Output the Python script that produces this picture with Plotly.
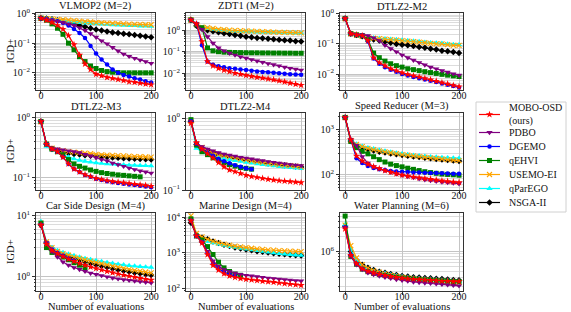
import plotly.graph_objects as go
from plotly.subplots import make_subplots

# ---------------- data ----------------
evals = [0, 10, 20, 30, 40, 50, 60, 70, 80, 90, 100, 110, 120, 130, 140, 150, 160, 170, 180, 190, 200]
methods = ["MOBO-OSD (ours)", "PDBO", "DGEMO", "qEHVI", "USEMO-EI", "qParEGO", "NSGA-II"]
legend_labels = ["MOBO-OSD", "PDBO", "DGEMO", "qEHVI", "USEMO-EI", "qParEGO", "NSGA-II"]
panel_titles = ["VLMOP2 (M=2)", "ZDT1 (M=2)", "DTLZ2-M2", "DTLZ2-M3", "DTLZ2-M4",
                "Speed Reducer (M=3)", "Car Side Design (M=4)", "Marine Design (M=4)", "Water Planning (M=6)"]

vlmop2 = {
    "MOBO-OSD (ours)": [0.7, 0.6, 0.5, 0.4, 0.3, 0.18, 0.09, 0.04, 0.02, 0.013, 0.009, 0.008, 0.007, 0.0065, 0.006, 0.0055, 0.005, 0.0048, 0.0045, 0.0042, 0.004],
    "PDBO": [0.7, 0.65, 0.6, 0.55, 0.5, 0.45, 0.4, 0.33, 0.27, 0.21, 0.16, 0.12, 0.095, 0.072, 0.055, 0.043, 0.036, 0.031, 0.027, 0.024, 0.021],
    "DGEMO": [0.7, 0.65, 0.6, 0.55, 0.48, 0.4, 0.3, 0.22, 0.15, 0.08, 0.045, 0.028, 0.019, 0.013, 0.01, 0.0085, 0.0075, 0.0065, 0.006, 0.0052, 0.0047],
    "qEHVI": [0.7, 0.6, 0.45, 0.32, 0.2, 0.1, 0.06, 0.035, 0.024, 0.017, 0.014, 0.012, 0.011, 0.0105, 0.0102, 0.01, 0.01, 0.01, 0.01, 0.01, 0.01],
    "USEMO-EI": [0.7, 0.68, 0.66, 0.64, 0.62, 0.6, 0.58, 0.56, 0.54, 0.52, 0.5, 0.49, 0.48, 0.47, 0.46, 0.45, 0.44, 0.43, 0.43, 0.42, 0.42],
    "qParEGO": [0.7, 0.67, 0.64, 0.6, 0.57, 0.54, 0.52, 0.5, 0.48, 0.46, 0.45, 0.44, 0.43, 0.42, 0.41, 0.4, 0.39, 0.39, 0.38, 0.38, 0.37],
    "NSGA-II": [0.7, 0.68, 0.65, 0.6, 0.55, 0.5, 0.45, 0.4, 0.36, 0.32, 0.29, 0.27, 0.25, 0.23, 0.22, 0.21, 0.2, 0.19, 0.18, 0.17, 0.16],
}
zdt1 = {
    "MOBO-OSD (ours)": [3.0, 2.0, 0.3, 0.035, 0.022, 0.017, 0.014, 0.012, 0.01, 0.009, 0.008, 0.0072, 0.0065, 0.006, 0.0055, 0.005, 0.0045, 0.004, 0.0035, 0.0031, 0.0028],
    "PDBO": [3.0, 1.8, 1.1, 0.5, 0.25, 0.15, 0.11, 0.085, 0.07, 0.058, 0.05, 0.043, 0.037, 0.032, 0.028, 0.025, 0.022, 0.019, 0.017, 0.0155, 0.014],
    "DGEMO": [3.0, 2.0, 0.2, 0.035, 0.025, 0.021, 0.019, 0.017, 0.016, 0.015, 0.014, 0.013, 0.012, 0.0115, 0.011, 0.0105, 0.01, 0.0095, 0.009, 0.0088, 0.0085],
    "qEHVI": [3.0, 1.8, 1.3, 0.15, 0.11, 0.1, 0.095, 0.093, 0.092, 0.091, 0.09, 0.089, 0.089, 0.088, 0.088, 0.087, 0.087, 0.086, 0.086, 0.085, 0.085],
    "USEMO-EI": [3.0, 1.8, 1.4, 1.3, 1.2, 1.1, 1.05, 1.0, 0.98, 0.95, 0.92, 0.9, 0.88, 0.86, 0.84, 0.82, 0.8, 0.79, 0.78, 0.77, 0.76],
    "qParEGO": [3.0, 1.7, 1.3, 1.2, 1.1, 1.0, 0.97, 0.93, 0.9, 0.88, 0.86, 0.84, 0.82, 0.8, 0.79, 0.78, 0.77, 0.76, 0.75, 0.74, 0.73],
    "NSGA-II": [3.0, 1.6, 1.2, 1.0, 0.9, 0.8, 0.72, 0.66, 0.6, 0.55, 0.5, 0.47, 0.44, 0.42, 0.4, 0.38, 0.36, 0.34, 0.33, 0.31, 0.3],
}
dtlz2_m2 = {
    "MOBO-OSD (ours)": [0.7, 0.22, 0.2, 0.19, 0.13, 0.035, 0.024, 0.019, 0.015, 0.013, 0.011, 0.0098, 0.0088, 0.008, 0.0072, 0.0065, 0.0058, 0.0052, 0.0047, 0.0042, 0.0038],
    "PDBO": [0.7, 0.22, 0.21, 0.2, 0.19, 0.16, 0.13, 0.09, 0.07, 0.055, 0.043, 0.035, 0.029, 0.024, 0.02, 0.017, 0.015, 0.013, 0.0115, 0.0102, 0.0092],
    "DGEMO": [0.7, 0.22, 0.2, 0.19, 0.12, 0.033, 0.022, 0.017, 0.014, 0.012, 0.01, 0.009, 0.008, 0.0073, 0.0066, 0.006, 0.0054, 0.0049, 0.0044, 0.004, 0.0036],
    "qEHVI": [0.7, 0.22, 0.2, 0.19, 0.14, 0.05, 0.035, 0.027, 0.022, 0.019, 0.017, 0.015, 0.014, 0.013, 0.012, 0.0112, 0.0105, 0.0098, 0.0092, 0.0087, 0.0083],
    "USEMO-EI": [0.7, 0.22, 0.2, 0.18, 0.165, 0.155, 0.15, 0.145, 0.14, 0.135, 0.13, 0.125, 0.12, 0.115, 0.11, 0.105, 0.1, 0.1, 0.095, 0.09, 0.09],
    "qParEGO": [0.7, 0.22, 0.2, 0.185, 0.17, 0.16, 0.155, 0.15, 0.145, 0.14, 0.135, 0.13, 0.125, 0.12, 0.115, 0.11, 0.108, 0.105, 0.1, 0.097, 0.095],
    "NSGA-II": [0.7, 0.22, 0.2, 0.18, 0.16, 0.14, 0.13, 0.12, 0.11, 0.1, 0.095, 0.09, 0.085, 0.08, 0.075, 0.07, 0.065, 0.06, 0.057, 0.054, 0.05],
}
dtlz2_m3 = {
    "MOBO-OSD (ours)": [0.85, 0.36, 0.3, 0.27, 0.22, 0.17, 0.14, 0.125, 0.113, 0.105, 0.098, 0.094, 0.09, 0.087, 0.085, 0.083, 0.081, 0.079, 0.077, 0.075, 0.073],
    "PDBO": [0.85, 0.36, 0.31, 0.3, 0.29, 0.28, 0.27, 0.26, 0.245, 0.23, 0.215, 0.2, 0.19, 0.175, 0.165, 0.155, 0.145, 0.137, 0.13, 0.125, 0.12],
    "DGEMO": [0.85, 0.36, 0.3, 0.27, 0.22, 0.17, 0.14, 0.125, 0.112, 0.104, 0.097, 0.092, 0.088, 0.085, 0.082, 0.08, 0.078, 0.076, 0.074, 0.072, 0.07],
    "qEHVI": [0.85, 0.36, 0.3, 0.27, 0.24, 0.2, 0.17, 0.155, 0.145, 0.135, 0.128, 0.122, 0.118, 0.115, 0.112, 0.11, 0.108, 0.106, 0.104, None, None],
    "USEMO-EI": [0.85, 0.36, 0.31, 0.29, 0.28, 0.27, 0.265, 0.26, 0.255, 0.25, 0.245, 0.24, 0.238, 0.235, 0.232, 0.23, 0.228, 0.225, 0.223, 0.221, 0.22],
    "qParEGO": [0.85, 0.33, 0.29, 0.26, 0.24, 0.22, 0.205, 0.195, 0.188, 0.182, 0.177, 0.173, 0.17, 0.168, 0.166, 0.164, 0.162, 0.161, 0.16, 0.159, 0.158],
    "NSGA-II": [0.85, 0.36, 0.3, 0.28, 0.265, 0.255, 0.248, 0.242, 0.237, 0.232, 0.228, 0.224, 0.22, 0.217, 0.214, 0.211, 0.208, 0.206, 0.204, 0.202, 0.2],
}
dtlz2_m4 = {
    "MOBO-OSD (ours)": [0.85, 0.45, 0.37, 0.32, 0.28, 0.24, 0.21, 0.19, 0.18, 0.17, 0.16, 0.154, 0.15, 0.145, 0.141, 0.138, 0.135, 0.133, 0.131, 0.129, 0.127],
    "PDBO": [0.9, 0.45, 0.4, 0.37, 0.35, 0.33, 0.315, 0.305, 0.295, 0.285, 0.278, 0.27, 0.262, 0.255, 0.248, 0.242, 0.236, 0.23, 0.226, 0.222, 0.218],
    "DGEMO": [0.9, 0.44, 0.37, 0.33, 0.3, 0.27, 0.25, 0.235, 0.22, 0.21, 0.2, 0.195, None, None, None, None, None, None, None, None, None],
    "qEHVI": [0.95, 0.42, 0.34, 0.31, 0.28, 0.26, 0.24, 0.225, 0.215, 0.205, 0.2, 0.195, None, None, None, None, None, None, None, None, None],
    "USEMO-EI": [0.9, 0.44, 0.39, 0.35, 0.33, 0.31, 0.3, 0.29, 0.28, 0.27, 0.262, 0.255, 0.248, 0.242, 0.236, 0.23, 0.226, 0.222, 0.218, 0.214, 0.21],
    "qParEGO": [0.9, 0.38, 0.34, 0.32, 0.3, 0.285, 0.275, 0.265, 0.257, 0.25, 0.243, 0.237, 0.231, 0.226, 0.221, 0.216, 0.212, 0.208, 0.204, 0.201, 0.198],
    "NSGA-II": [0.9, 0.43, 0.38, 0.35, 0.33, 0.31, 0.298, 0.287, 0.277, 0.268, 0.26, 0.253, 0.246, 0.24, 0.234, 0.229, 0.224, 0.22, 0.216, 0.212, 0.208],
}
speed_reducer = {
    "MOBO-OSD (ours)": [1900, 600, 260, 200, 170, 150, 135, 122, 112, 104, 97, 92, 88, 84, 81, 78, 75, 72, 70, 68, 66],
    "PDBO": [1900, 600, 450, 250, 180, 150, 135, 122, 112, 103, 96, 90, 85, 80, 76, 73, 70, 68, 66, 64, 62],
    "DGEMO": [1900, 600, 230, 180, 155, 140, 130, 125, 120, 117, 115, 113, 111, 110, 109, 108, 107, 106, 105, 104, 103],
    "qEHVI": [1900, 550, 400, 330, 290, 250, 215, 190, 170, 158, 148, 138, 130, 122, 115, 110, 106, 102, 100, 98, 96],
    "USEMO-EI": [1900, 580, 470, 420, 385, 360, 340, 322, 307, 293, 280, 270, 260, 251, 243, 235, 228, 222, 216, 210, 205],
    "qParEGO": [1900, 600, 480, 430, 400, 375, 355, 335, 318, 303, 290, 280, 270, 262, 255, 250, 245, 241, 238, 235, 232],
    "NSGA-II": [1900, 560, 450, 400, 370, 345, 325, 310, 295, 283, 272, 262, 253, 245, 237, 230, 223, 217, 211, 205, 200],
}
car_side = {
    "MOBO-OSD (ours)": [7.0, 3.4, 2.7, 2.4, 2.15, 1.95, 1.8, 1.66, 1.55, 1.45, 1.37, 1.3, 1.23, 1.17, 1.12, 1.07, 1.03, 0.99, 0.95, 0.92, 0.89],
    "PDBO": [7.0, 3.6, 2.6, 2.1, 1.75, 1.55, 1.42, 1.32, 1.23, 1.15, 1.1, 1.05, 1.0, 0.96, 0.93, 0.9, 0.88, 0.86, 0.84, 0.82, 0.8],
    "DGEMO": [7.0, 3.5, 2.8, 2.45, 2.2, 2.0, 1.85, None, None, None, None, None, None, None, None, None, None, None, None, None, None],
    "qEHVI": [7.5, 3.0, 2.5, 2.3, 2.1, 1.9, 1.7, 1.55, 1.42, None, None, None, None, None, None, None, None, None, None, None, None],
    "USEMO-EI": [7.5, 3.7, 3.0, 2.6, 2.4, 2.25, 2.1, 2.0, 1.9, 1.8, 1.72, 1.64, 1.57, 1.5, 1.44, 1.38, 1.33, 1.28, 1.24, 1.2, 1.16],
    "qParEGO": [8.0, 3.7, 3.0, 2.7, 2.5, 2.35, 2.22, 2.1, 2.0, 1.92, 1.85, 1.78, 1.72, 1.66, 1.61, 1.57, 1.53, 1.5, 1.47, 1.45, 1.43],
    "NSGA-II": [7.0, 3.6, 2.9, 2.5, 2.3, 2.15, 2.0, 1.88, 1.77, 1.67, 1.58, 1.5, 1.43, 1.37, 1.31, 1.26, 1.21, 1.17, 1.13, 1.1, 1.07],
}
marine_design = {
    "MOBO-OSD (ours)": [8000, 3000, 1900, 900, 450, 330, 260, 225, 205, 192, 182, 175, 168, 160, 155, 150, 144, 138, 133, 128, 124],
    "PDBO": [8000, 3000, 2000, 1100, 600, 420, 340, 300, 270, 250, 235, 225, 215, 205, 197, 190, 184, 178, 172, 167, 163],
    "DGEMO": [8000, 3000, 2000, 1000, 500, 360, 290, 250, 225, None, None, None, None, None, None, None, None, None, None, None, None],
    "qEHVI": [9000, 3000, 2300, 1500, 900, 550, 380, 300, 255, 235, None, None, None, None, None, None, None, None, None, None, None],
    "USEMO-EI": [11000, 3500, 2800, 2400, 2100, 1900, 1750, 1650, 1550, 1470, 1400, 1350, 1300, 1260, 1220, 1190, 1160, 1140, 1120, 1100, 1080],
    "qParEGO": [10000, 2800, 2300, 2100, 1900, 1750, 1620, 1500, 1420, 1350, 1280, 1220, 1160, 1100, 1050, 1000, 960, 930, 900, 870, 850],
    "NSGA-II": [7000, 3200, 2700, 2400, 2100, 1900, 1700, 1550, 1420, 1330, 1250, 1180, 1120, 1070, 1020, 980, 950, 920, 890, 860, 840],
}
water_planning = {
    "MOBO-OSD (ours)": [2.8e6, 8.5e5, 5.8e5, 4.6e5, 4.1e5, 3.8e5, 3.6e5, 3.4e5, 3.25e5, 3.1e5, 3.0e5, 2.9e5, 2.85e5, 2.8e5, 2.75e5, 2.7e5, 2.65e5, 2.6e5, 2.6e5, 2.55e5, 2.55e5],
    "PDBO": [3.0e6, 8.0e5, 5.5e5, 4.4e5, 3.8e5, 3.5e5, 3.3e5, 3.1e5, 2.95e5, 2.8e5, 2.7e5, 2.6e5, 2.5e5, 2.45e5, 2.4e5, 2.35e5, 2.3e5, 2.25e5, 2.2e5, 2.15e5, 2.1e5],
    "DGEMO": [3.0e6, 8.5e5, 5.7e5, 4.5e5, 4.0e5, 3.7e5, 3.5e5, 3.3e5, None, None, None, None, None, None, None, None, None, None, None, None, None],
    "qEHVI": [5.0e6, 8.0e5, 5.6e5, 4.5e5, 4.0e5, 3.7e5, 3.5e5, 3.35e5, 3.2e5, 3.1e5, 3.0e5, 2.92e5, 2.85e5, 2.8e5, 2.75e5, 2.7e5, 2.66e5, 2.62e5, 2.58e5, 2.55e5, 2.52e5],
    "USEMO-EI": [3.3e6, 1.3e6, 7.5e5, 5.5e5, 4.7e5, 4.2e5, 3.9e5, 3.6e5, 3.4e5, 3.25e5, 3.1e5, 3.0e5, 2.9e5, 2.8e5, 2.75e5, 2.7e5, 2.65e5, 2.6e5, 2.55e5, 2.5e5, 2.45e5],
    "qParEGO": [3.4e6, 1.1e6, 6.5e5, 5.0e5, 4.5e5, 4.1e5, 3.9e5, 3.7e5, 3.5e5, 3.35e5, 3.2e5, 3.1e5, 3.0e5, 2.95e5, 2.9e5, 2.85e5, 2.8e5, 2.75e5, 2.7e5, 2.65e5, 2.6e5],
    "NSGA-II": [3.2e6, 1.0e6, 6.8e5, 5.5e5, 4.8e5, 4.3e5, 4.0e5, 3.8e5, 3.6e5, 3.45e5, 3.3e5, 3.2e5, 3.1e5, 3.05e5, 3.0e5, 2.95e5, 2.9e5, 2.85e5, 2.8e5, 2.75e5, 2.7e5],
}
panels = [vlmop2, zdt1, dtlz2_m2, dtlz2_m3, dtlz2_m4, speed_reducer, car_side, marine_design, water_planning]

# y log-ranges (log10) and major tick exponents per panel
y_ranges = [[-2.58, 0.02], [-2.78, 0.8], [-2.53, 0.03], [-1.2, 0.07], [-1.0, 0.07],
            [1.65, 3.38], [-0.23, 1.04], [1.93, 4.12], [5.22, 6.76]]
y_major_exps = [[-2, -1, 0], [-2, -1, 0], [-2, -1, 0], [-1, 0], [-1, 0],
                [2, 3], [0, 1], [2, 3, 4], [6]]

# ---------------- style ----------------
colors = {"MOBO-OSD (ours)": "#ff0000", "PDBO": "#800080", "DGEMO": "#0000ff", "qEHVI": "#008000",
          "USEMO-EI": "#ffa500", "qParEGO": "#00ffff", "NSGA-II": "#000000"}
symbols = {"MOBO-OSD (ours)": "star", "PDBO": "triangle-down", "DGEMO": "circle", "qEHVI": "square",
           "USEMO-EI": "x-thin", "qParEGO": "triangle-up", "NSGA-II": "diamond"}
msize = {"MOBO-OSD (ours)": 5.5, "PDBO": 5.5, "DGEMO": 4.5, "qEHVI": 5, "USEMO-EI": 5, "qParEGO": 5.5, "NSGA-II": 5}
FONT = "Liberation Serif"
W, H = 571, 312

col_px = [(36, 155), (186, 305), (340, 463)]
row_px = [(13, 90), (113, 190), (213, 291)]

fig = make_subplots(rows=3, cols=3)
draw_order = list(reversed(methods))


def marker_for(m, size_scale=1.0):
    sym = symbols[m]
    return dict(symbol=sym, size=msize[m] * size_scale, color=colors[m],
                line=dict(width=1.1 if sym == "x-thin" else 0, color=colors[m]))


for p, data in enumerate(panels):
    r, c = divmod(p, 3)
    for m in draw_order:
        fig.add_trace(go.Scatter(
            x=evals, y=data[m], mode="lines+markers", name=m,
            line=dict(color=colors[m], width=1.2), marker=marker_for(m),
            showlegend=False, connectgaps=False), row=r + 1, col=c + 1)

annotations = []
shapes = []
for p in range(9):
    r, c = divmod(p, 3)
    idx = p + 1
    xa = "xaxis" if idx == 1 else f"xaxis{idx}"
    ya = "yaxis" if idx == 1 else f"yaxis{idx}"
    x0, x1 = col_px[c]
    y0, y1 = row_px[r]
    lo, hi = y_ranges[p]
    majors = y_major_exps[p]
    minors = [k * 10 ** e for e in range(int(lo) - 2, int(hi) + 2) for k in range(2, 10)]
    fig.layout[xa].update(
        domain=[x0 / W, x1 / W], range=[-9, 207], tickvals=[0, 100, 200], automargin=False,
        showgrid=True, gridcolor="#c4c4c4", gridwidth=0.8, zeroline=False,
        showline=True, linecolor="#333", linewidth=0.8, mirror=True,
        ticks="outside", ticklen=3, tickcolor="#333", ticklabelstandoff=-7,
        tickfont=dict(family=FONT, size=10, color="#111"), showticklabels=True)
    fig.layout[ya].update(
        domain=[1 - y1 / H, 1 - y0 / H], type="log", range=[lo, hi], automargin=False,
        tickvals=[10 ** e for e in majors],
        ticktext=[f"10<sup>{'−' if e < 0 else ''}{abs(e)}</sup>" for e in majors],
        showgrid=True, gridcolor="#c4c4c4", gridwidth=0.8, zeroline=False,
        showline=True, linecolor="#333", linewidth=0.8, mirror=True,
        ticks="outside", ticklen=3, tickcolor="#333",
        tickfont=dict(family=FONT, size=10, color="#111"),
        minor=dict(tickvals=minors, showgrid=True, gridcolor="#dcdcdc", gridwidth=0.6,
                   ticks="outside", ticklen=1.5, tickcolor="#333"))
    annotations.append(dict(text=panel_titles[p], x=(x0 + x1) / 2 / W, y=1 - y0 / H,
                            xref="paper", yref="paper", xanchor="center", yanchor="bottom",
                            yshift=-1, showarrow=False, font=dict(family=FONT, size=10.5, color="#111")))
    if c == 0:
        annotations.append(dict(text="IGD+", x=10 / W, y=1 - (y0 + y1) / 2 / H, xref="paper", yref="paper",
                                textangle=-90, showarrow=False, xanchor="center", yanchor="middle",
                                font=dict(family=FONT, size=10.5, color="#111")))
    if r == 2:
        annotations.append(dict(text="Number of evaluations", x=(x0 + x1) / 2 / W, y=1 - 306.5 / H,
                                xref="paper", yref="paper", showarrow=False, xanchor="center",
                                yanchor="middle", font=dict(family=FONT, size=10.5, color="#111")))

# ---------------- custom legend (pixel overlay axis) ----------------
LEG_BOX = (476, 102, 566, 212)
LEG_ROWS = [114.5, 132.5, 146.5, 160.5, 174.5, 188.5, 202.5]
LINE_X = (479, 500)
TEXT_X = 507
fig.update_layout(
    xaxis10=dict(domain=[0, 1], range=[0, W], visible=False, anchor="y10", fixedrange=True),
    yaxis10=dict(domain=[0, 1], range=[H, 0], visible=False, anchor="x10", fixedrange=True),
)
shapes.append(dict(type="rect", xref="x10", yref="y10", x0=LEG_BOX[0], x1=LEG_BOX[2], y0=LEG_BOX[1], y1=LEG_BOX[3],
                   line=dict(color="#d0d0d0", width=1), fillcolor="white", layer="below"))
for i, m in enumerate(methods):
    yy = LEG_ROWS[i]
    fig.add_trace(go.Scatter(x=[LINE_X[0], LINE_X[1]], y=[yy, yy], mode="lines",
                             line=dict(color=colors[m], width=1.2), xaxis="x10", yaxis="y10",
                             showlegend=False, hoverinfo="skip"))
    fig.add_trace(go.Scatter(x=[(LINE_X[0] + LINE_X[1]) / 2], y=[yy], mode="markers",
                             marker=marker_for(m), xaxis="x10", yaxis="y10",
                             showlegend=False, hoverinfo="skip"))
    if i == 0:
        annotations.append(dict(text="MOBO-OSD<br>(ours)", x=TEXT_X, y=yy, xref="x10", yref="y10",
                                xanchor="left", yanchor="middle", align="left", showarrow=False,
                                font=dict(family=FONT, size=10, color="#111")))
    else:
        annotations.append(dict(text=legend_labels[i], x=TEXT_X, y=yy, xref="x10", yref="y10",
                                xanchor="left", yanchor="middle", showarrow=False,
                                font=dict(family=FONT, size=10, color="#111")))

fig.update_layout(
    template="none",
    width=W, height=H, margin=dict(l=0, r=0, t=0, b=0),
    paper_bgcolor="white", plot_bgcolor="rgba(0,0,0,0)",
    font=dict(family=FONT, size=10, color="#111"),
    annotations=annotations, shapes=shapes, showlegend=False,
)

fig.write_html("out.html", config={"displayModeBar": False},
               post_script="document.body.style.margin='0';document.body.style.overflow='hidden';")
